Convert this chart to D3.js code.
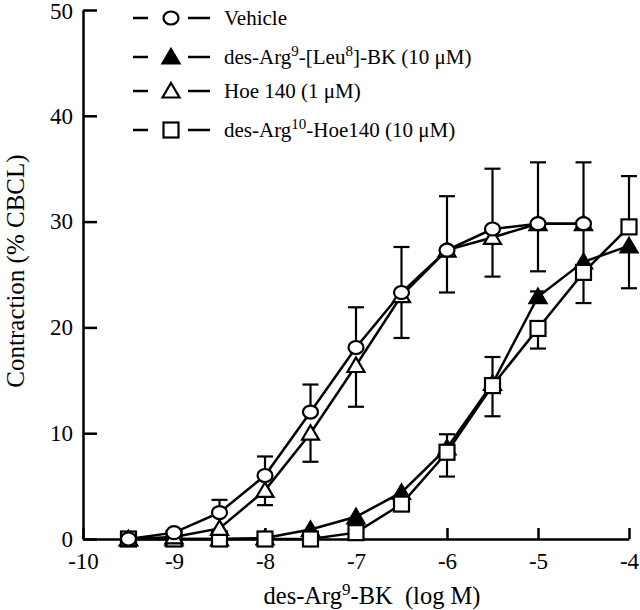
<!DOCTYPE html>
<html><head><meta charset="utf-8">
<script src="https://cdn.jsdelivr.net/npm/d3@7"></script>
<style>body{margin:0;background:#fff}svg{display:block}svg text{font-family:"Liberation Serif","Times New Roman",Times,"DejaVu Serif",serif !important;fill:#000}</style>
</head><body><svg id="c" width="640" height="610"></svg>
<script>
const logDose = [-9.5,-9,-8.5,-8,-7.5,-7,-6.5,-6,-5.5,-5,-4.5,-4];
const xTicks = [-10,-9,-8,-7,-6,-5,-4];
const yTicks = [0,10,20,30,40,50];

const vehicle      = [0,0.6,2.5,6.0,12.0,18.1,23.3,27.3,29.3,29.8,29.8];
const vehicleUp    = [0,0,1.2,1.8,2.6,3.8,4.3,5.1,5.7,5.8,5.8];
const vehicleDown  = [0,0,0,0,0,0,0,0,0,0,0];

const leu8         = [0,0,0,0.1,0.9,2.1,4.4,8.6,14.7,22.9,26.2,27.7];
const leu8Up       = [0,0,0,0,0,0,0,1.3,2.5,0.5,0,0];
const leu8Down     = [0,0,0,0,0,0,0,0,0,0,0,4.0];

const hoe140       = [0,0.2,1.0,4.6,10.0,16.4,23.0,27.3,28.5,29.8,29.8];
const hoe140Up     = [0,0,0,0,0,0,0,0,0,0,0];
const hoe140Down   = [0,0,0,1.4,2.7,3.9,4.0,4.0,3.7,4.5,4.0];

const desHoe       = [0,0,0,0,0,0.6,3.3,8.2,14.5,19.9,25.2,29.5];
const desHoeUp     = [0,0,0,0,0,0,0,0,0,0,0,4.8];
const desHoeDown   = [0,0,0,0,0,0,0,2.3,2.9,1.9,2.9,0];

const legendLabels = [
  [["Vehicle",""]],
  [["des-Arg",""],["9","sup"],["-[Leu",""],["8","sup"],["]-BK (10 \u03bcM)",""]],
  [["Hoe 140 (1 \u03bcM)",""]],
  [["des-Arg",""],["10","sup"],["-Hoe140 (10 \u03bcM)",""]]
];

const series = [
  {name:"vehicle", y:vehicle, up:vehicleUp, down:vehicleDown, shape:"circle", fill:"#fff"},
  {name:"leu8", y:leu8, up:leu8Up, down:leu8Down, shape:"triangle", fill:"#000"},
  {name:"hoe140", y:hoe140, up:hoe140Up, down:hoe140Down, shape:"triangle", fill:"#fff"},
  {name:"desHoe", y:desHoe, up:desHoeUp, down:desHoeDown, shape:"square", fill:"#fff"}
];

const FONT = "'Liberation Serif','Times New Roman',Times,'DejaVu Serif',serif";
const svg = d3.select("#c");
const x = d3.scaleLinear().domain([-10,-4]).range([83,629]);
const y = d3.scaleLinear().domain([0,50]).range([539,10]);

function marker(sel, shape, fill){
  if(shape==="circle"){
    sel.append("ellipse").attr("rx",7.5).attr("ry",6.5);
  } else if(shape==="triangle"){
    sel.append("path").attr("d","M0,-8L8.5,6.5L-8.5,6.5Z");
  } else {
    sel.append("rect").attr("x",-7.5).attr("y",-7.5).attr("width",15).attr("height",15);
  }
  sel.selectAll("*").attr("fill",fill).attr("stroke","#000").attr("stroke-width",2.2);
}

// axes
const gx = svg.append("g").attr("transform","translate(0,539)")
  .call(d3.axisBottom(x).tickValues(xTicks).tickSizeInner(-11).tickSizeOuter(0).tickPadding(14).tickFormat(d3.format("d")));
const gy = svg.append("g").attr("transform","translate(83,0)")
  .call(d3.axisLeft(y).tickValues(yTicks).tickSizeInner(-14).tickSizeOuter(0).tickPadding(10));
[gx,gy].forEach(g=>{
  g.attr("font-family",FONT);
  g.selectAll("path,line").attr("stroke","#000").attr("stroke-width",2.5);
  g.selectAll("text").attr("font-size",23).style("font-family",FONT);
});
gx.selectAll("text").text(d=>"-"+Math.abs(d));
gy.selectAll("text").filter(d=>d===50).attr("dy","0.38em");

// connecting lines
const line = d3.line().x((d,i)=>x(logDose[i])).y(d=>y(d));
series.forEach(s=>{
  svg.append("path").datum(s.y).attr("d",line).attr("fill","none")
    .attr("stroke","#000").attr("stroke-width",2.5);
});

// error bars
series.forEach(s=>{
  const g = svg.append("g").attr("stroke","#000").attr("stroke-width",2.2);
  s.y.forEach((v,i)=>{
    const cx = x(logDose[i]);
    [[s.up[i],1],[s.down[i],-1]].forEach(([e,dir])=>{
      if(e>0){
        const ye = y(v+dir*e);
        g.append("line").attr("x1",cx).attr("x2",cx).attr("y1",y(v)).attr("y2",ye);
        g.append("line").attr("x1",cx-8).attr("x2",cx+8).attr("y1",ye).attr("y2",ye);
      }
    });
  });
});

// markers
[series[1],series[3],series[2],series[0]].forEach(s=>{
  s.y.forEach((v,i)=>{
    const g = svg.append("g").attr("transform",`translate(${x(logDose[i])},${y(v)})`);
    marker(g, s.shape, s.fill);
  });
});

// legend
const rowsY = [18,57,91,130];
series.forEach((s,k)=>{
  const ly = rowsY[k];
  svg.append("line").attr("x1",133).attr("x2",148).attr("y1",ly).attr("y2",ly).attr("stroke","#000").attr("stroke-width",2.5);
  svg.append("line").attr("x1",188).attr("x2",210).attr("y1",ly).attr("y2",ly).attr("stroke","#000").attr("stroke-width",2.5);
  const g = svg.append("g").attr("transform",`translate(171,${ly})`);
  marker(g, s.shape, s.fill);
  const t = svg.append("text").attr("x",224).attr("y",ly+7).attr("font-size",21).style("font-family",FONT);
  legendLabels[k].forEach(([txt,kind],j)=>{
    if(kind==="sup"){
      t.append("tspan").attr("dy",-8).attr("font-size",15).text(txt);
    } else {
      const ts = t.append("tspan").text(txt);
      if(j>0) ts.attr("dy",8);
    }
  });
});

// axis titles
const xt = svg.append("text").attr("x",372).attr("y",604).attr("text-anchor","middle").attr("font-size",24.5).style("font-family",FONT);
xt.append("tspan").text("des-Arg");
xt.append("tspan").attr("dy",-9).attr("font-size",17).text("9");
xt.append("tspan").attr("dy",9).text("-BK\u00a0\u00a0(log M)");

svg.append("text").attr("transform","translate(24,271) rotate(-90)").attr("text-anchor","middle")
  .attr("font-size",25).style("font-family",FONT).text("Contraction (% CBCL)");
</script></body></html>
